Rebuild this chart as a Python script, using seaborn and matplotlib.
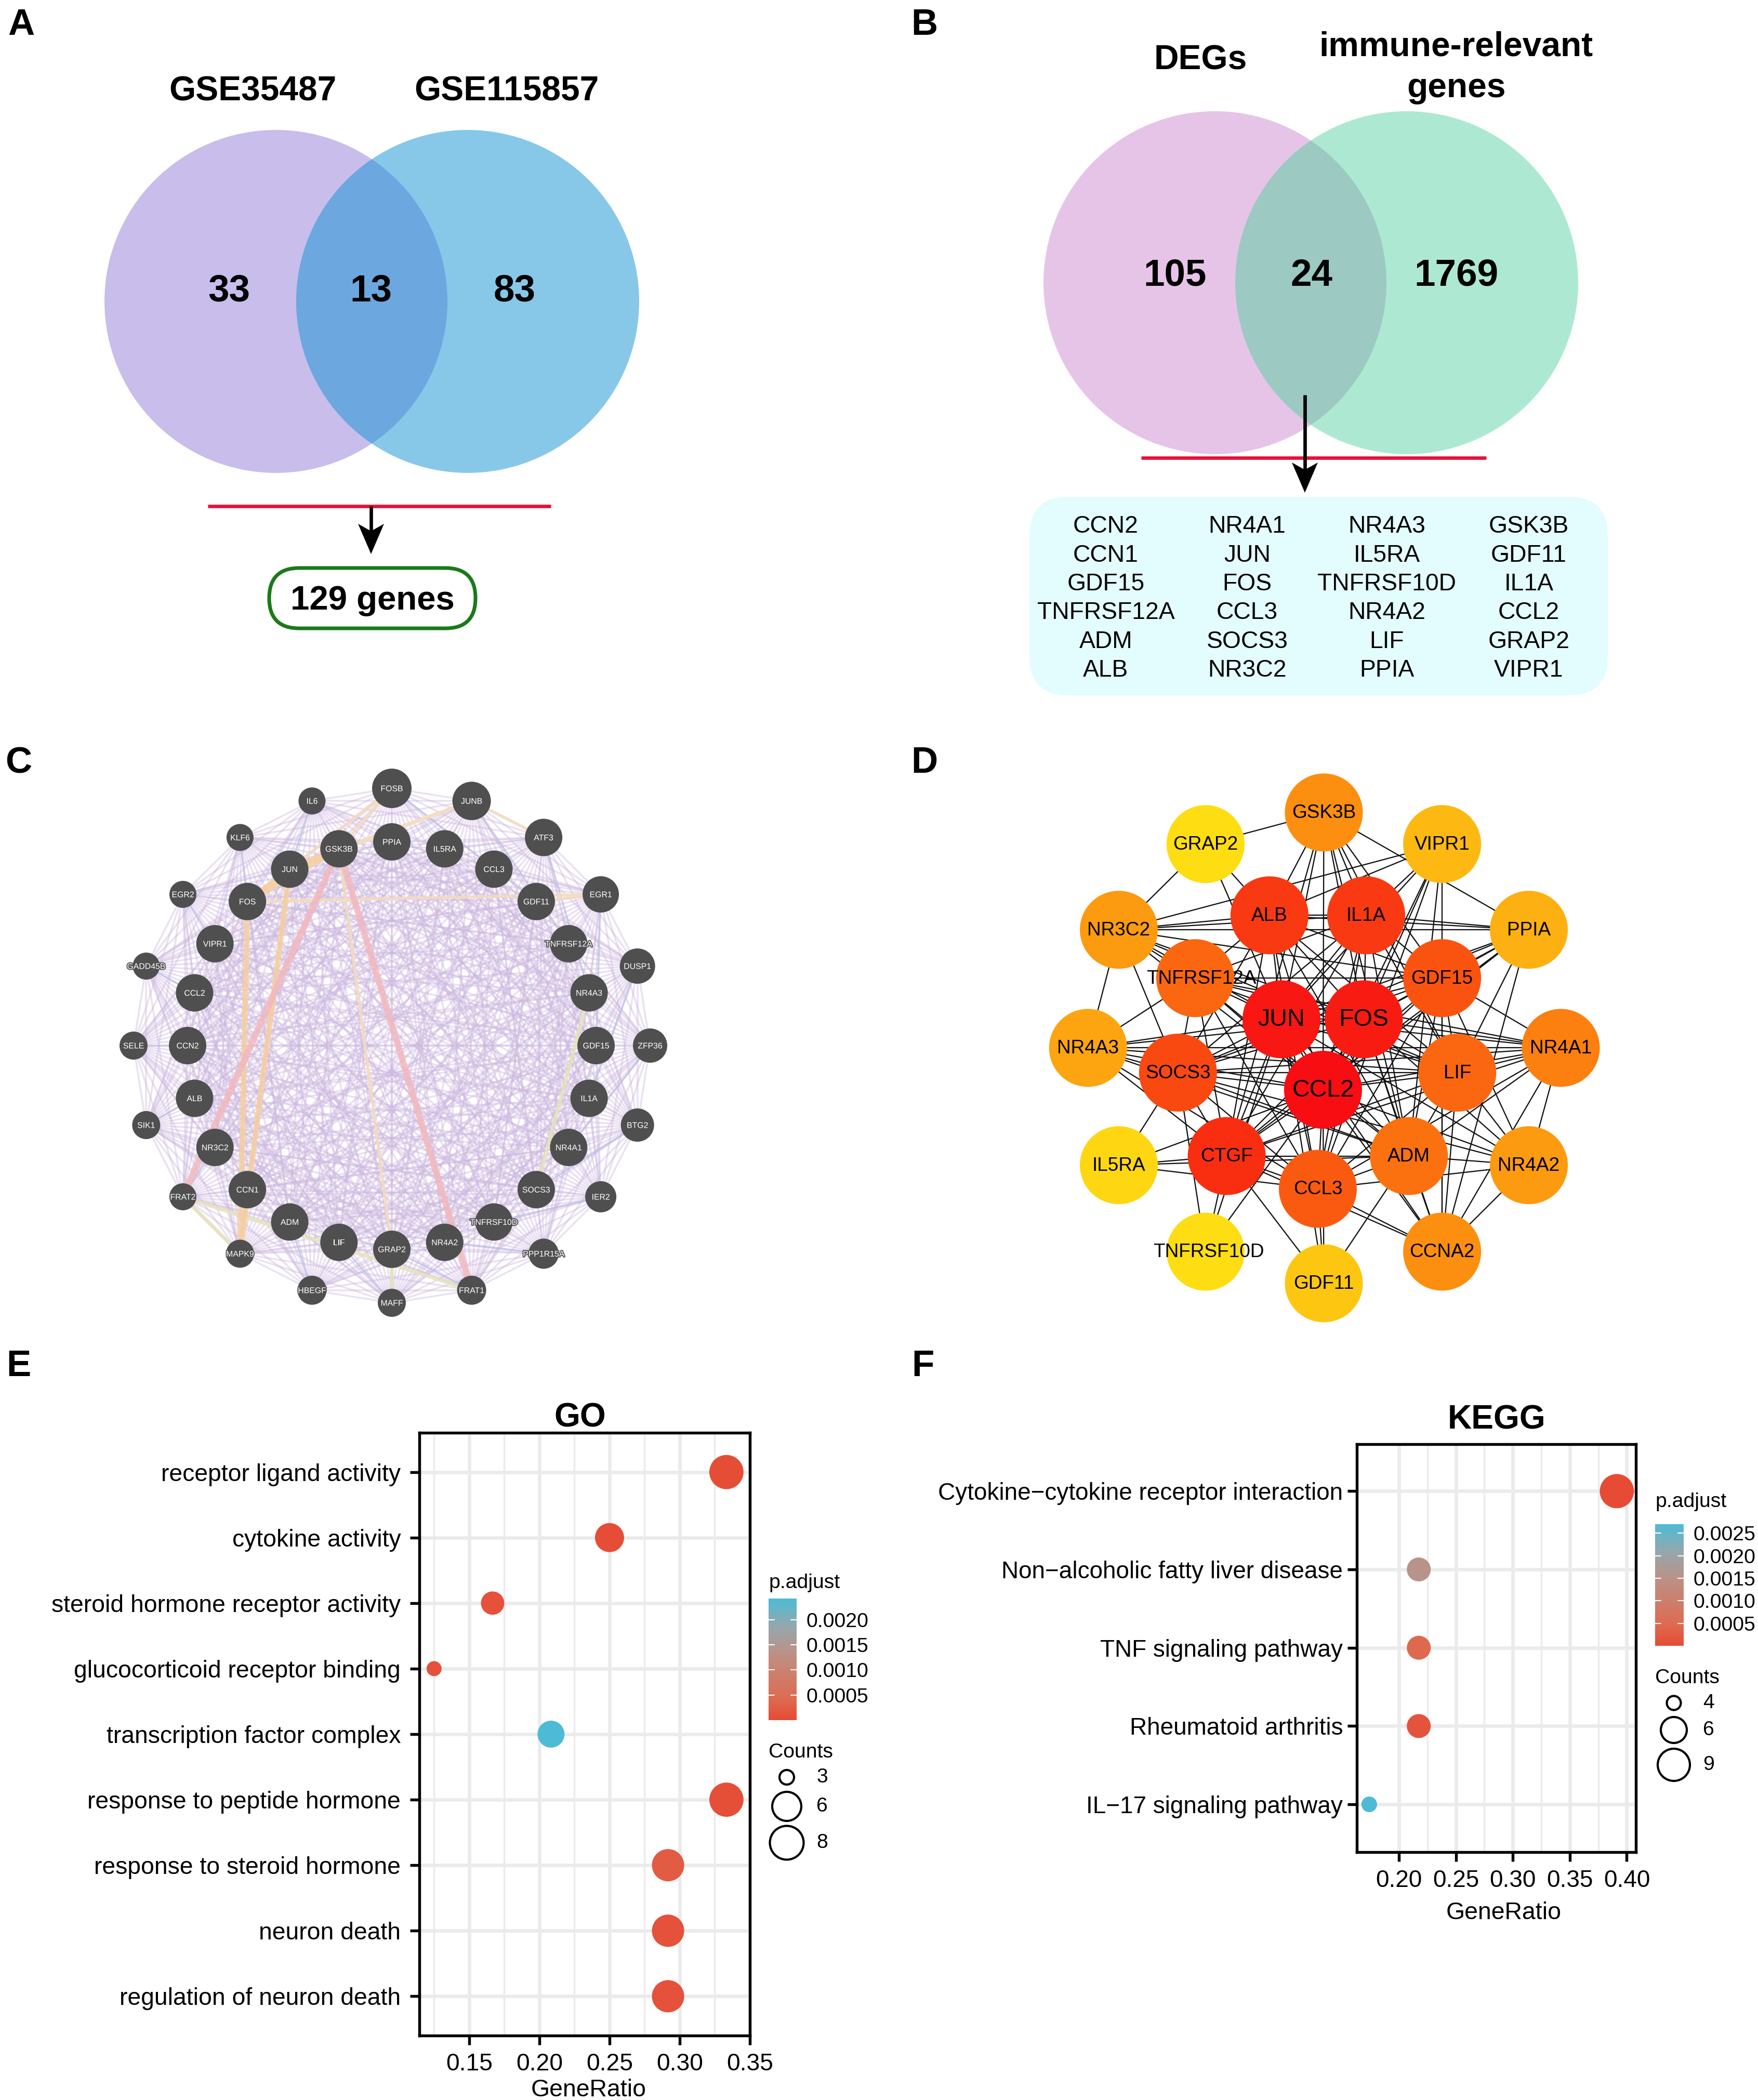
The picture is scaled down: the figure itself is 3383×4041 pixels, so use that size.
import itertools

import matplotlib
matplotlib.use("Agg")  # Headless mode for saving files

import matplotlib.patheffects as pe
import matplotlib.pyplot as plt
import numpy as np
import pandas as pd
import seaborn as sns
from matplotlib.collections import LineCollection
from matplotlib.colors import LinearSegmentedColormap, Normalize
from matplotlib.patches import Circle, FancyBboxPatch, Polygon

W, H, DPI = 3383, 4041, 300

sns.set_theme(style="white")
plt.rcParams["font.family"] = ["Liberation Sans", "DejaVu Sans"]
plt.rcParams["text.color"] = "black"
plt.rcParams["xtick.color"] = "black"
plt.rcParams["ytick.color"] = "black"

# Venn numbers
VENN_A_NAMES = ["GSE35487", "GSE115857"]
VENN_A_COUNTS = [33, 13, 83]
VENN_A_TOTAL = "129 genes"
VENN_B_COUNTS = [105, 24, 1769]

# Shared genes in panel B, column by column
GENE_COLUMNS = [
    ["CCN2", "CCN1", "GDF15", "TNFRSF12A", "ADM", "ALB"],
    ["NR4A1", "JUN", "FOS", "CCL3", "SOCS3", "NR3C2"],
    ["NR4A3", "IL5RA", "TNFRSF10D", "NR4A2", "LIF", "PPIA"],
    ["GSK3B", "GDF11", "IL1A", "CCL2", "GRAP2", "VIPR1"],
]

# Panel C rings, clockwise from the top
C_OUTER = ["FOSB", "JUNB", "ATF3", "EGR1", "DUSP1", "ZFP36", "BTG2", "IER2", "PPP1R15A", "FRAT1",
           "MAFF", "HBEGF", "MAPK9", "FRAT2", "SIK1", "SELE", "GADD45B", "EGR2", "KLF6", "IL6"]
C_OUTER_DIAM = [72, 70, 68, 66, 64, 62, 60, 56, 54, 52, 50, 52, 50, 48, 50, 50, 48, 48, 48, 48]
C_INNER = ["PPIA", "IL5RA", "CCL3", "GDF11", "TNFRSF12A", "NR4A3", "GDF15", "IL1A", "NR4A1", "SOCS3",
           "TNFRSF10D", "NR4A2", "GRAP2", "LIF", "ADM", "CCN1", "NR3C2", "ALB", "CCN2", "CCL2",
           "VIPR1", "FOS", "JUN", "GSK3B"]
C_PINK = [("GSK3B", "FRAT2"), ("GSK3B", "FRAT1")]
C_ORANGE = [("JUN", "MAPK9"), ("FOS", "JUN"), ("FOS", "MAPK9"), ("GSK3B", "JUN"), ("GSK3B", "FOS")]
C_PALE_ORANGE = [("JUN", "JUNB"), ("FOS", "EGR1"), ("FOSB", "JUN"), ("JUNB", "ATF3"), ("GSK3B", "GRAP2"),
                 ("GSK3B", "JUNB"), ("FOSB", "GSK3B"), ("GDF11", "EGR1")]
C_OLIVE = [("FRAT2", "FRAT1"), ("FRAT2", "MAPK9"), ("NR4A3", "SOCS3"), ("GRAP2", "MAFF")]

# Panel D genes with degree rank colours, positions are in D_LAYOUT below
D_GENES = ["CCL2", "JUN", "FOS", "CTGF", "ALB", "IL1A", "SOCS3", "GDF15", "CCL3", "LIF", "TNFRSF12A", "ADM",
           "NR4A1", "CCNA2", "GSK3B", "NR3C2", "NR4A2", "NR4A3", "PPIA", "VIPR1", "GDF11", "IL5RA", "GRAP2",
           "TNFRSF10D"]
D_DEGREE = [23, 22.3, 22, 20.8, 20, 20, 19, 18.3, 17.8, 16.8, 16.8, 16, 14.8, 13.5, 13.5, 12.7, 12.7, 11.8, 11, 10.3,
            9.2, 8, 7.5, 7.5]
D_CORE = ["ALB", "IL1A", "TNFRSF12A", "GDF15", "JUN", "FOS", "SOCS3", "LIF", "CCL2", "CTGF", "ADM", "CCL3"]
D_LINKS = {
    "GSK3B": ["GRAP2", "ALB", "IL1A", "JUN", "FOS", "CCL2", "CTGF", "LIF", "GDF15", "PPIA", "ADM"],
    "VIPR1": ["ALB", "NR3C2", "IL1A", "JUN", "FOS", "CCL2", "ADM", "CCNA2", "CCL3"],
    "GRAP2": ["ALB", "JUN"],
    "NR3C2": ["GRAP2", "ALB", "IL1A", "PPIA", "GDF15", "NR4A3", "SOCS3", "JUN", "FOS", "CCL2", "TNFRSF12A", "LIF"],
    "PPIA": ["ALB", "IL1A", "GDF15", "JUN", "FOS", "CCL2", "LIF", "CCNA2", "SOCS3", "CTGF"],
    "NR4A3": ["SOCS3", "JUN", "FOS", "CCL2", "LIF", "CTGF", "CCL3", "ADM", "NR4A1", "TNFRSF12A"],
    "NR4A1": ["JUN", "FOS", "CCL2", "LIF", "GDF15", "SOCS3", "ADM", "NR4A2", "CCNA2", "CTGF", "CCL3", "TNFRSF12A"],
    "IL5RA": ["SOCS3", "CTGF", "CCL3", "ADM", "CCL2"],
    "NR4A2": ["JUN", "FOS", "CCL2", "LIF", "ADM", "CCL3", "GDF15", "CCNA2", "SOCS3"],
    "TNFRSF10D": ["CTGF", "CCL2", "JUN", "SOCS3"],
    "CCNA2": ["GDF15", "LIF", "ADM", "CCL3", "CTGF", "JUN", "FOS", "CCL2"],
    "GDF11": ["CTGF", "CCL3", "CCL2", "ADM", "JUN"],
}

# GO dot plot
GO_TERMS = ["receptor ligand activity", "cytokine activity", "steroid hormone receptor activity",
            "glucocorticoid receptor binding", "transcription factor complex", "response to peptide hormone",
            "response to steroid hormone", "neuron death", "regulation of neuron death"]
GO_RATIO = [0.3333, 0.25, 0.1667, 0.125, 0.2083, 0.3333, 0.2917, 0.2917, 0.2917]
GO_COUNT = [8, 6, 4, 3, 5, 8, 7, 7, 7]
GO_PADJ = [0.00003, 0.00003, 0.00008, 0.00008, 0.00242, 0.00005, 0.00022, 0.00008, 0.00008]

# KEGG dot plot
KEGG_TERMS = ["Cytokine\u2212cytokine receptor interaction", "Non\u2212alcoholic fatty liver disease",
              "TNF signaling pathway", "Rheumatoid arthritis", "IL\u221217 signaling pathway"]
KEGG_RATIO = [0.3913, 0.2174, 0.2174, 0.2174, 0.1739]
KEGG_COUNT = [9, 5, 5, 5, 4]
KEGG_PADJ = [0.00001, 0.00155, 0.00045, 0.00012, 0.0027]

# Panel D node centres (zoomed reference coordinates)
D_LAYOUT = {
    "GSK3B": (777, 182), "VIPR1": (1073, 265), "GRAP2": (481, 265), "NR3C2": (264, 490), "PPIA": (1290, 490),
    "NR4A3": (187, 800), "NR4A1": (1370, 800), "IL5RA": (264, 1108), "NR4A2": (1290, 1108),
    "TNFRSF10D": (481, 1335), "CCNA2": (1073, 1335), "GDF11": (777, 1418), "ALB": (641, 452), "IL1A": (883, 452),
    "TNFRSF12A": (455, 617), "GDF15": (1073, 617), "JUN": (671, 725), "FOS": (877, 725), "SOCS3": (412, 865),
    "LIF": (1111, 865), "CCL2": (775, 910), "CTGF": (534, 1084), "ADM": (990, 1084), "CCL3": (762, 1170),
}
D_LABEL_SHIFT = {"TNFRSF12A": 12, "TNFRSF10D": 6}

dot_cmap = LinearSegmentedColormap.from_list(
    "npg", [(0, "#E64B35"), (0.17, "#DE6A50"), (0.55, "#BC9186"), (0.78, "#93A8AE"), (1, "#4DBBD5")])
degree_cmap = LinearSegmentedColormap.from_list("degree", ["#FEDD12", "#FC9A10", "#FA5A10", "#F80D12"])


# 1. === Venn panels ===
def draw_venn(ax, left, right, r, colors):
    c1 = Circle(left, r, fc=colors[0], ec="none", zorder=2)
    c2 = Circle(right, r, fc=colors[1], ec="none", zorder=2)
    ax.add_patch(c1)
    ax.add_patch(c2)
    overlap = Circle(left, r, fc=colors[2], ec="none", zorder=3)
    ax.add_patch(overlap)
    overlap.set_clip_path(c2)


def draw_arrow(ax, x, y0, tip):
    # Stealth head, same size on both panels
    ax.plot([x, x], [y0, tip - 30], color="black", lw=1.6, solid_capstyle="butt", zorder=6)
    ax.add_patch(Polygon([(x, tip), (x - 25, tip - 58), (x, tip - 44), (x + 25, tip - 58)],
                         fc="black", ec="none", zorder=6))


def panel_a(ax):
    draw_venn(ax, (531, 580), (900, 580), 330, ["#C9BDEC", "#87C8E9", "#6CA7E0"])
    for name, x in zip(VENN_A_NAMES, [486, 975]):
        ax.text(x, 177, name, fontsize=15.8, fontweight="bold", ha="center", va="center")
    for n, x in zip(VENN_A_COUNTS, [441, 714, 990]):
        ax.text(x, 560, str(n), fontsize=17.5, fontweight="bold", ha="center", va="center", zorder=5)
    ax.plot([400, 1060], [974, 974], color="#E6123A", lw=1.6, solid_capstyle="butt")
    draw_arrow(ax, 714, 974, 1066)
    box = FancyBboxPatch((518 + 58, 1093 + 58), 397 - 116, 0.1, boxstyle="round,pad=58",
                         fc="white", ec="#1A7A1A", lw=1.7)
    ax.add_patch(box)
    ax.text(717, 1156, VENN_A_TOTAL, fontsize=15.7, fontweight="bold", ha="center", va="center")


def panel_b(ax):
    draw_venn(ax, (2338, 544), (2707, 544), 330, ["#E6C4E8", "#ADE9D2", "#9CC9C2"])
    ax.text(2310, 117, "DEGs", fontsize=15.8, fontweight="bold", ha="center", va="center")
    ax.text(2802, 90, "immune-relevant", fontsize=15.8, fontweight="bold", ha="center", va="center")
    ax.text(2802, 170, "genes", fontsize=15.8, fontweight="bold", ha="center", va="center")
    for n, x in zip(VENN_B_COUNTS, [2261, 2524, 2802]):
        ax.text(x, 531, str(n), fontsize=17.5, fontweight="bold", ha="center", va="center", zorder=5)
    ax.plot([2196, 2860], [881, 881], color="#E6123A", lw=1.6, solid_capstyle="butt", zorder=4)
    draw_arrow(ax, 2511, 760, 948)
    box = FancyBboxPatch((1981 + 75, 956 + 75), 1113 - 150, 382 - 150, boxstyle="round,pad=75",
                         fc="#E3FCFD", ec="none")
    ax.add_patch(box)
    rows = [1013, 1069, 1124, 1179, 1235, 1290]
    for col, x in zip(GENE_COLUMNS, [2128, 2400, 2669, 2942]):
        for gene, y in zip(col, rows):
            ax.text(x, y, gene, fontsize=11.1, ha="center", va="center")


# 2. === Panel C: co-expression ring ===
def panel_c(ax):
    cx, cy = 754, 2012
    pos = {}
    for i, name in enumerate(C_OUTER):
        a = np.deg2rad(18 * i)
        pos[name] = (cx + 497 * np.sin(a), cy - 495 * np.cos(a))
    for i, name in enumerate(C_INNER):
        a = np.deg2rad(15 * i)
        pos[name] = (cx + 393 * np.sin(a), cy - 392 * np.cos(a))

    web = [(pos[a], pos[b]) for a, b in itertools.product(C_OUTER, C_INNER)]
    for step in [1, 2, 3]:
        web += [(pos[a], pos[b]) for a, b in zip(C_OUTER, C_OUTER[step:] + C_OUTER[:step])]
    for step in [5, 7, 9, 11]:
        web += [(pos[a], pos[b]) for a, b in zip(C_INNER, C_INNER[step:] + C_INNER[:step])]
    ax.add_collection(LineCollection(web, colors="#CDB8E0", linewidths=0.85, alpha=0.42, zorder=2))
    blue = [(pos[a], pos[b]) for a, b in zip(C_OUTER, C_INNER[3:])]
    ax.add_collection(LineCollection(blue, colors="#B3C2EA", linewidths=0.7, alpha=0.6, zorder=2))

    styles = [(C_OLIVE, "#E6E2BC", 1.8), (C_PALE_ORANGE, "#F5DDC0", 1.5), (C_ORANGE, "#F6CFA2", 2.6), (C_PINK, "#F2B8BE", 3.0)]
    for links, color, lw in styles:
        segs = [(pos[a], pos[b]) for a, b in links]
        ax.add_collection(LineCollection(segs, colors=color, linewidths=lw, alpha=0.85, zorder=3))

    for name, d in zip(C_OUTER, C_OUTER_DIAM):
        ax.add_patch(Circle(pos[name], d / 2 + 2, fc="#4F4F4F", ec="none", zorder=4))
    for name in C_INNER:
        ax.add_patch(Circle(pos[name], 36, fc="#4F4F4F", ec="none", zorder=4))
    for name in C_OUTER + C_INNER:
        ax.text(pos[name][0], pos[name][1] + 1, name, color="white", fontsize=3.8, ha="center", va="center", zorder=5,
                path_effects=[pe.withStroke(linewidth=0.9, foreground="#4F4F4F")])


# 3. === Panel D: hub gene network ===
def panel_d(ax):
    pos = {k: (1950 + x * 0.769, 1430 + y * 0.733) for k, (x, y) in D_LAYOUT.items()}
    links = list(itertools.combinations(D_CORE, 2))
    for gene, others in D_LINKS.items():
        links += [(gene, o) for o in others]
    ax.add_collection(LineCollection([(pos[a], pos[b]) for a, b in links], colors="#111111",
                                     linewidths=0.55, zorder=2))
    norm = Normalize(min(D_DEGREE), max(D_DEGREE))
    for gene, deg in zip(D_GENES, D_DEGREE):
        ax.add_patch(Circle(pos[gene], 75, fc=degree_cmap(norm(deg)), ec="none", zorder=3))
        size = 11.2 if gene in ["CCL2", "JUN", "FOS"] else 8.9
        ax.text(pos[gene][0] + D_LABEL_SHIFT.get(gene, 0), pos[gene][1] + 1, gene, fontsize=size,
                ha="center", va="center", zorder=4)


# 4. === Dot plots (E, F) ===
def dot_plot(fig, rect, terms, ratio, count, padj, xlim, ylim, xticks, minor, sizes, tick_pad, label_size):
    left, top, right, bottom = rect
    ax = fig.add_axes([left / W, 1 - bottom / H, (right - left) / W, (bottom - top) / H])
    df = pd.DataFrame({"term": terms, "ratio": ratio, "count": count, "padj": padj})
    sns.scatterplot(data=df, x="ratio", y="term", hue="padj", size="count", sizes=sizes,
                    palette=dot_cmap, hue_norm=(0, max(padj)), linewidth=0, legend=False, ax=ax, zorder=3)
    ax.set_xlim(*xlim)
    ax.set_ylim(*ylim)
    ax.set_xticks(xticks)
    ax.set_xticklabels([f"{t:.2f}" for t in xticks])
    ax.set_xticks(minor, minor=True)
    ax.grid(True, which="major", color="#EBEBEB", lw=1.6, zorder=0)
    ax.grid(True, which="minor", axis="x", color="#EBEBEB", lw=0.8, zorder=0)
    ax.set_axisbelow(True)
    ax.set_xlabel("")
    ax.set_ylabel("")
    ax.tick_params(axis="both", which="major", length=4.4, width=1.3, color="black", labelsize=label_size, bottom=True, left=True)
    ax.tick_params(axis="y", pad=tick_pad)
    ax.tick_params(axis="x", pad=3.5)
    ax.tick_params(axis="x", which="minor", length=0)
    for s in ax.spines.values():
        s.set_visible(True)
        s.set_color("black")
        s.set_linewidth(1.3)
    return ax


def colour_bar(fig, rect, vmax, ticks):
    left, top, right, bottom = rect
    cax = fig.add_axes([left / W, 1 - bottom / H, (right - left) / W, (bottom - top) / H])
    sm = plt.cm.ScalarMappable(norm=Normalize(0, vmax), cmap=dot_cmap)
    cb = fig.colorbar(sm, cax=cax)
    cb.outline.set_visible(False)
    cb.set_ticks(ticks)
    cb.set_ticklabels([f"{t:.4f}" for t in ticks])
    cb.ax.tick_params(length=0, labelsize=9.4, pad=4.5)
    for t in ticks:
        cax.plot([0, 0.2], [t, t], color="white", lw=0.5)
        cax.plot([0.8, 1], [t, t], color="white", lw=0.5)
    cax.set_xlim(0, 1)
    cax.set_ylim(0, vmax)


def count_legend(ax, title_xy, x, ys, labels, diams, label_x):
    ax.text(title_xy[0], title_xy[1], "Counts", fontsize=9.4, ha="left", va="center")
    for y, label, d in zip(ys, labels, diams):
        ax.add_patch(Circle((x, y), d / 2, fc="white", ec="black", lw=1.0))
        ax.text(label_x, y, str(label), fontsize=9.4, ha="center", va="center")


if __name__ == "__main__":
    fig = plt.figure(figsize=(W / DPI, H / DPI), dpi=DPI, facecolor="white")
    canvas = fig.add_axes([0, 0, 1, 1])
    canvas.set_xlim(0, W)
    canvas.set_ylim(H, 0)
    canvas.axis("off")

    panel_a(canvas)
    panel_b(canvas)
    panel_c(canvas)
    panel_d(canvas)

    for letter, x, y in [("A", 41, 49), ("B", 1779, 49), ("C", 36, 1469), ("D", 1779, 1469), ("E", 36, 2630), ("F", 1776, 2630)]:
        canvas.text(x, y, letter, fontsize=17, fontweight="bold", ha="center", va="center")

    go_sizes = {3: 48, 4: 116, 5: 155, 6: 180, 7: 222, 8: 250}
    dot_plot(fig, (807, 2757, 1443, 3917), GO_TERMS, GO_RATIO, GO_COUNT, GO_PADJ, (0.1145, 0.35), (8.6, -0.6),
             [0.15, 0.20, 0.25, 0.30, 0.35], [0.125, 0.175, 0.225, 0.275, 0.325], go_sizes, 4.2, 11.1)
    kegg_sizes = {4: 52, 5: 122, 9: 250}
    dot_plot(fig, (2611, 2779, 3148, 3564), KEGG_TERMS, KEGG_RATIO, KEGG_COUNT, KEGG_PADJ, (0.163, 0.408), (4.61, -0.6),
             [0.20, 0.25, 0.30, 0.35, 0.40], [0.225, 0.275, 0.325, 0.375], kegg_sizes, 2, 11.0)

    canvas.text(1116, 2729, "GO", fontsize=15.4, fontweight="bold", ha="center", va="center")
    canvas.text(2880, 2733, "KEGG", fontsize=15.4, fontweight="bold", ha="center", va="center")
    canvas.text(1133, 4022, "GeneRatio", fontsize=11.15, ha="center", va="center")
    canvas.text(2894, 3681, "GeneRatio", fontsize=11.15, ha="center", va="center")

    canvas.text(1479, 3046, "p.adjust", fontsize=9.4, ha="left", va="center")
    colour_bar(fig, (1479, 3076, 1533, 3310), 0.00242, [0.0005, 0.0010, 0.0015, 0.0020])
    count_legend(canvas, (1479, 3372), 1514, [3420, 3476, 3546], [3, 6, 8], [28, 56, 65], 1582)

    canvas.text(3185, 2890, "p.adjust", fontsize=9.4, ha="left", va="center")
    colour_bar(fig, (3185, 2933, 3240, 3167), 0.0027, [0.0005, 0.0010, 0.0015, 0.0020, 0.0025])
    count_legend(canvas, (3185, 3229), 3221, [3277, 3329, 3396], [4, 6, 9], [27, 50, 62], 3288)

    fig.savefig("out.png", dpi=DPI)
    print("Saved: out.png")
